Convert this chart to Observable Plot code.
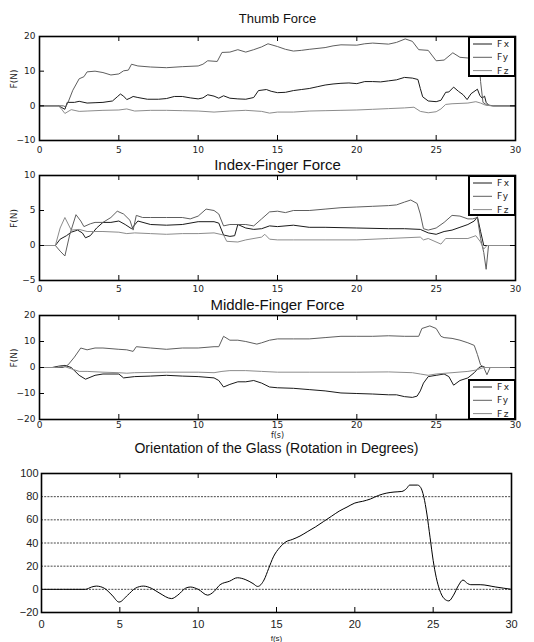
<!DOCTYPE html>
<html><head><meta charset="utf-8">
<script src="https://cdn.jsdelivr.net/npm/d3@7"></script>
<script src="https://cdn.jsdelivr.net/npm/@observablehq/plot@0.6"></script>
<style>
body{margin:0;background:#fff;}
#wrap{position:relative;width:534px;height:642px;overflow:hidden;}
#wrap svg{display:block;}
.legend{position:absolute;}
</style></head><body><div id="wrap"></div>
<script>
const xTicks = [0, 5, 10, 15, 20, 25, 30];
const seriesNames = ["Fx", "Fy", "Fz"];
const seriesColors = ["#1a1a1a", "#5e5e5e", "#8c8c8c"];

const thumbFx = [[0,0],[1.2,0],[1.4,-0.5],[1.6,-1],[1.75,1],[2.2,1],[2.5,1.3],[3,0.8],[3.5,0.9],[4,1],[4.6,1.4],[4.9,2.6],[5.1,3.4],[5.3,2.8],[5.5,1.8],[5.7,2.2],[5.9,2.7],[6.2,2.4],[6.8,1.9],[7.5,1.9],[8,2.1],[8.5,2.7],[9,2.7],[9.5,2.3],[10,2],[10.3,2.3],[10.6,3.2],[11,2.8],[11.3,2.2],[11.6,2.9],[12,2.2],[12.5,2],[13,1.9],[13.5,2.4],[13.8,4.4],[14.3,4.7],[14.6,4.2],[15,3.8],[15.5,3.9],[16,4.4],[16.5,4.7],[17,5],[17.5,5.5],[18,6],[18.5,6.3],[19,6.5],[19.5,6.6],[20,6.4],[20.5,7],[21,7],[21.5,6.9],[22,7.2],[22.5,7.5],[23,8.2],[23.5,8],[23.85,7.6],[24.0,5],[24.15,2.6],[24.5,1.4],[25,1.2],[25.3,1.6],[25.6,3.9],[25.8,4],[26.1,5.4],[26.4,4.2],[26.7,3.2],[26.95,1.8],[27.2,3.5],[27.6,4.8],[27.75,3],[27.9,2.2],[28.05,2.8],[28.15,1],[28.3,0.2],[28.6,0],[30,0]];
const thumbFy = [[0,0],[1.5,0],[1.65,-0.3],[1.8,1],[2.1,4.5],[2.5,7.8],[2.8,8.4],[3.0,9.8],[3.5,10],[4,9.6],[4.5,8.9],[5,9.2],[5.3,10.1],[5.6,10.3],[5.8,12],[6.2,11.5],[7,11.2],[8,11],[9,11.3],[10,11.5],[10.3,12],[10.6,13],[11.2,12.8],[11.5,15.4],[12,15.5],[12.5,16.2],[13,15.5],[13.5,16.2],[14,17],[14.4,17.9],[15,17.1],[15.5,16.3],[16,15.8],[16.5,16],[17,16.3],[18,16.8],[18.5,17.3],[19,17.6],[20,17.5],[20.5,17.9],[21,18.1],[22,17.8],[22.5,18.3],[23.05,19.3],[23.5,18.6],[23.9,16.2],[24.5,16],[25,13],[25.5,13.2],[26.05,15.3],[26.5,14],[27,13.8],[27.5,13.1],[27.7,13.6],[27.8,7],[27.95,1],[28.2,0.2],[28.6,0],[30,0]];
const thumbFz = [[0,0],[1.2,0],[1.4,-1],[1.6,-2.2],[2,-1.1],[2.5,-1.6],[3,-1.5],[4,-1.3],[5,-1.2],[5.5,-0.9],[6,-1.5],[7,-1.3],[8,-1.3],[9,-1.4],[10,-1.5],[11,-1.8],[12,-1.5],[13,-1.3],[14,-1.6],[14.5,-2.1],[15,-1.8],[16,-1.8],[17,-1.5],[18,-1.4],[19,-1.3],[20,-1.2],[21,-1],[22,-0.8],[23,-0.6],[23.6,-0.4],[24,-1.6],[24.5,-2],[25,-1.7],[25.3,-0.9],[25.6,0.4],[26,0.6],[27,0.8],[27.5,1.2],[27.8,0.8],[28.1,0.2],[28.5,0],[30,0]];

const indexFx = [[0,0],[1.0,0],[1.3,0.9],[1.7,1.4],[2,1.9],[2.4,2.2],[2.7,1.8],[2.9,1.1],[3.2,1.4],[3.6,2.5],[4,3.3],[4.5,3.3],[5,3.5],[5.4,3],[5.8,2.4],[6.2,3.5],[7,3],[8,2.9],[9,3],[10,3.4],[11,3.4],[11.3,3.2],[11.6,1.5],[12,1.3],[12.3,1.4],[12.5,3],[13,2.5],[13.5,2.3],[14,2.4],[14.5,2.8],[15,2.7],[16,2.9],[17,2.6],[18,2.6],[20,2.5],[22,2.4],[23,2.4],[24,2.3],[24.5,1.8],[25,1.6],[25.5,2],[26,2.2],[26.5,2.6],[27,3],[27.4,3.5],[27.6,4.1],[27.8,2],[28,0],[28.2,0],[30,0]];
const indexFy = [[0,0],[1.0,0],[1.3,-0.8],[1.6,-1.5],[1.9,1.5],[2.3,4.4],[2.6,3.5],[2.8,2.7],[3.2,3.1],[3.5,3.3],[4,3.3],[4.5,4],[4.9,4.9],[5.3,4.5],[5.7,3.6],[5.9,2.2],[6.1,4.3],[6.5,4],[7,4],[8,4],[9,4],[9.5,3.8],[10,4.2],[10.5,5.2],[11,5],[11.3,4.5],[11.6,2.8],[12,3],[13,3],[13.5,2.8],[14,3.8],[14.5,4.8],[15,4.9],[15.5,4.7],[16,5],[17,5],[18,5.2],[19,5.4],[20,5.5],[21,5.6],[22,5.7],[22.5,5.8],[23,6.2],[23.4,6.5],[23.8,6],[24,4.5],[24.2,2.4],[24.5,2.2],[25,2.5],[25.5,3.3],[26,4.3],[26.5,4.2],[27,3.8],[27.3,3.8],[27.6,4],[27.8,1],[28,-1],[28.15,-3.4],[28.3,0],[28.5,0],[30,0]];
const indexFz = [[0,0],[1.0,0],[1.3,2.5],[1.6,4],[2.0,2.2],[2.5,2.3],[3,2],[4,2],[5,1.9],[5.5,1.7],[6,1.8],[7,1.7],[8,1.6],[9,1.7],[10,1.7],[11,1.8],[11.6,1.5],[11.8,0.6],[12.5,0.5],[13,0.8],[14,1.2],[14.2,1.6],[14.5,0.9],[15,0.8],[16,0.8],[18,0.8],[20,0.8],[22,1],[24,1.2],[24.2,0.8],[24.5,1],[25.3,0.2],[25.6,1],[26,1],[27,1],[27.5,1.4],[27.8,0.5],[28,-0.5],[28.2,0],[30,0]];

const middleFx = [[0,0],[0.8,0],[1.2,0.5],[1.6,0.8],[2,0],[2.5,-3],[2.9,-4.5],[3.5,-3],[4,-2.5],[5,-2.5],[5.3,-4],[6,-3.5],[7,-3.3],[8,-3],[9,-3.3],[10,-3.5],[11,-4],[11.3,-5],[11.6,-7.5],[12,-6.5],[12.5,-5.5],[13,-5.5],[13.5,-5],[14,-6],[14.5,-7.5],[15,-7.8],[16,-8],[17,-8.5],[18,-9],[19,-9.8],[20,-10],[21,-10.2],[22,-10.5],[22.5,-10.5],[23,-11.2],[23.5,-11.5],[23.8,-11],[24,-9],[24.2,-6],[24.5,-3.5],[25,-3],[25.5,-2.5],[25.8,-3.5],[26.1,-6.8],[26.5,-5],[27,-4],[27.4,-2],[27.7,0],[27.9,0.5],[28.1,0],[30,0]];
const middleFy = [[0,0],[1.5,0],[1.8,1],[2.2,4],[2.6,7.5],[3,6.8],[3.5,7.5],[4,7.5],[5,7],[5.5,6.8],[5.9,6.2],[6.1,8],[7,7.5],[8,7],[9,7.5],[10,7.5],[11,8],[11.3,8],[11.6,12],[12,10.5],[12.5,10.5],[13,10],[13.7,9],[14,9.5],[14.5,10.5],[15,11],[16,11],[17,11],[18,11.5],[19,12],[20,12],[21,12],[22,12.2],[23,12],[23.9,12],[24.1,15],[24.6,16],[25,15],[25.3,12],[25.5,11.5],[26,11.2],[26.5,10.5],[27,9.5],[27.4,8.5],[27.6,5],[27.8,1],[28,0],[28.2,-2.8],[28.4,0],[30,0]];
const middleFz = [[0,0],[1,0],[1.5,0.5],[2,-0.5],[2.5,-1.5],[3,-1.5],[4,-1.8],[5,-2],[5.5,-2.2],[6,-2],[8,-1.8],[10,-1.8],[11,-2],[11.5,-1.5],[12,-1.2],[13,-1.2],[14,-1.5],[15,-1.8],[17,-1.8],[20,-1.8],[22,-1.7],[23.5,-2],[24,-2.5],[24.5,-3],[25,-2.5],[26,-2],[27,-1.5],[27.5,-1],[28,0],[30,0]];

const rotation = [[0,0],[2.8,0],[3.2,2],[3.5,2.8],[4,1],[4.5,-5],[4.95,-11],[5.5,-5],[6,1],[6.5,2.8],[7,1],[7.5,-3],[8.3,-8],[8.7,-5],[9.2,1],[9.5,2],[10,0],[10.6,-5],[11,-2],[11.4,4],[12,7],[12.5,10],[13,8.5],[13.5,5],[13.8,2.5],[14.2,8],[14.5,18],[14.8,28],[15.2,36],[15.6,41],[16,43],[16.5,46],[17,50],[17.5,54],[18,58.5],[18.5,63],[19,67.5],[19.5,71],[20,74.5],[20.5,76],[21,78],[21.5,81],[22,83],[22.5,84],[23,84.5],[23.3,87],[23.5,90],[24,90],[24.2,88],[24.4,80],[24.6,65],[24.8,45],[25,25],[25.2,10],[25.4,0],[25.7,-8],[26,-10],[26.3,-5],[26.6,3],[26.9,8],[27.2,5],[27.4,4],[28,4],[29,2],[30,0]];

const panels = [
  {title: "Thumb Force", series: [thumbFx, thumbFy, thumbFz], yDomain: [-10, 20], yTicks: [-10, 0, 10, 20],
   height: 160, mt: 36, mb: 20, titleDy: -18, titleSize: 13, legend: "top", xlabel: false, pad: 6},
  {title: "Index-Finger Force", series: [indexFx, indexFy, indexFz], yDomain: [-5, 10], yTicks: [-5, 0, 5, 10],
   height: 138, mt: 15, mb: 18, titleDy: -10, titleSize: 15, legend: "top", xlabel: false, pad: 5},
  {title: "Middle-Finger Force", series: [middleFx, middleFy, middleFz], yDomain: [-20, 20], yTicks: [-20, -10, 0, 10, 20],
   height: 142, mt: 17, mb: 21, titleDy: -10, titleSize: 15, legend: "bottom", xlabel: true, pad: 2}
];

const wrap = document.getElementById("wrap");
const ML = 39, MR = 19, W = 534;
let yOff = 0;

function addLegend(left, topPx) {
  const svg = d3.create("svg").attr("class", "legend").attr("width", 48).attr("height", 41)
    .style("left", left + "px").style("top", topPx + "px");
  svg.append("rect").attr("x", 1).attr("y", 1).attr("width", 46).attr("height", 39)
    .attr("fill", "white").attr("stroke", "black").attr("stroke-width", 2);
  seriesNames.forEach((n, i) => {
    const y = 8 + i * 13.3;
    svg.append("line").attr("x1", 5).attr("x2", 24).attr("y1", y).attr("y2", y)
      .attr("stroke", seriesColors[i]).attr("stroke-width", 1);
    svg.append("text").attr("x", 29).attr("y", y).attr("dy", "0.35em")
      .attr("font-family", "DejaVu Sans, sans-serif").attr("font-size", 9).attr("letter-spacing", 1.5)
      .attr("fill", "#222").text(n);
  });
  wrap.appendChild(svg.node());
}

for (const p of panels) {
  const h = p.height - p.mt - p.mb, w = W - ML - MR;
  const rows = p.series.flatMap((a, i) => a.map(([t, v]) => ({t, v, s: seriesNames[i]})));
  const marks = [
    Plot.line(rows, {x: "t", y: "v", z: "s", stroke: "s", strokeWidth: 1}),
    Plot.ruleX(xTicks, {x: d => d, insetTop: h - 5, stroke: "black"}),
    Plot.ruleX(xTicks, {x: d => d, insetBottom: h - 5, stroke: "black"}),
    Plot.ruleY(p.yTicks, {y: d => d, insetRight: w - 5, stroke: "black"}),
    Plot.ruleY(p.yTicks, {y: d => d, insetLeft: w - 5, stroke: "black"}),
    Plot.frame({stroke: "black", strokeWidth: 1.6}),
    Plot.axisX(xTicks, {tickSize: 0, tickPadding: p.pad, label: null, fontSize: 9, fill: "#222"}),
    Plot.axisY(p.yTicks, {tickSize: 0, tickPadding: 4, label: null, fontSize: 9, fill: "#222"}),
    Plot.text(["F(N)"], {frameAnchor: "left", dx: -25, rotate: -90, fontSize: 9, fill: "#222"}),
    Plot.text([p.title], {frameAnchor: "top", lineAnchor: "middle", dy: p.titleDy, fontSize: p.titleSize, fill: "#111",
      fontFamily: "Liberation Sans, Arial, sans-serif"})
  ];
  if (p.xlabel) marks.push(Plot.text(["f(s)"], {frameAnchor: "bottom", lineAnchor: "middle", dy: 16, fontSize: 8, fill: "#222"}));
  const chart = Plot.plot({
    width: W, height: p.height, marginLeft: ML, marginRight: MR, marginTop: p.mt, marginBottom: p.mb,
    style: {fontFamily: "DejaVu Sans, sans-serif", background: "white", overflow: "visible"},
    x: {domain: [0, 30]},
    y: {domain: p.yDomain},
    color: {domain: seriesNames, range: seriesColors},
    marks
  });
  wrap.appendChild(chart);
  if (p.legend === "top") addLegend(W - MR - 47, yOff + p.mt);
  else addLegend(W - MR - 47, yOff + p.height - p.mb - 40);
  yOff += p.height;
}

// Orientation panel
{
  const ml = 41, mr = 23, mt = 33, mb = 30, H = 642 - yOff;
  const h = H - mt - mb, w = W - ml - mr;
  const rotTicks = [-20, 0, 20, 40, 60, 80, 100];
  const rotGrid = [0, 20, 40, 60, 80];
  const rows = rotation.map(([t, v]) => ({t, v}));
  const chart = Plot.plot({
    width: W, height: H, marginLeft: ml, marginRight: mr, marginTop: mt, marginBottom: mb,
    style: {fontFamily: "Liberation Sans, Arial, sans-serif", background: "white", overflow: "visible"},
    x: {domain: [0, 30]},
    y: {domain: [-20, 100]},
    marks: [
      Plot.ruleY(rotGrid, {y: d => d, stroke: "#333", strokeWidth: 0.9, strokeDasharray: "2,1.2"}),
      Plot.line(rows, {x: "t", y: "v", stroke: "black", strokeWidth: 1, curve: "monotone-x"}),
      Plot.ruleX(xTicks, {x: d => d, insetTop: h - 5, stroke: "black"}),
      Plot.ruleX(xTicks, {x: d => d, insetBottom: h - 5, stroke: "black"}),
      Plot.frame({stroke: "black", strokeWidth: 1.6}),
      Plot.axisX(xTicks, {tickSize: 0, tickPadding: 8, label: null, fontSize: 11, fill: "#222"}),
      Plot.axisY(rotTicks, {tickSize: 0, tickPadding: 3, label: null, fontSize: 11, fill: "#222"}),
      Plot.text(["f(s)"], {frameAnchor: "bottom", lineAnchor: "middle", dy: 26, fontSize: 8, fill: "#222"}),
      Plot.text(["Orientation of the Glass (Rotation in Degrees)"], {frameAnchor: "top", lineAnchor: "middle", dy: -25, fontSize: 14, fill: "#111"})
    ]
  });
  wrap.appendChild(chart);
}
</script></body></html>
